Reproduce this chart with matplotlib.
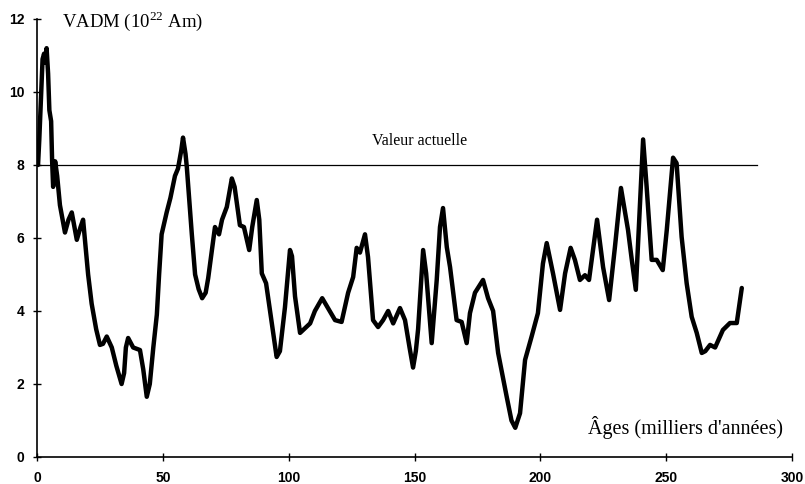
import matplotlib
matplotlib.use("Agg")
import matplotlib.pyplot as plt

# VADM record (10^22 Am^2) versus age (ka)
ages = [0.4, 0.9, 1.5, 2.2, 2.8, 3.2, 3.8, 4.4, 4.9, 5.6, 6.0, 6.4, 7.2, 8.0,
        9.1, 11.1, 12.5, 13.8, 15.8, 17.3, 18.3, 20.3, 21.7, 23.5, 25.0, 26.2,
        27.7, 29.7, 31.5, 33.6, 34.6, 35.3, 36.2, 38.2, 40.9, 42.2, 43.6, 44.8,
        46.2, 47.6, 48.5, 49.5, 51.5, 53.0, 54.8, 56.0, 57.3, 58.0, 59.0, 59.5,
        61.5, 62.8, 64.2, 65.6, 67.0, 68.0, 70.7, 72.3, 73.5, 75.4, 77.4, 78.5,
        80.6, 82.2, 84.3, 85.5, 87.3, 88.3, 89.3, 91.0, 93.0, 95.2, 96.5, 98.5,
        100.5, 101.3, 102.5, 104.5, 107.0, 108.5, 110.4, 113.3, 115.6, 118.4,
        121.0, 123.6, 125.6, 127.0, 128.3, 130.3, 131.5, 133.5, 135.5, 137.5,
        139.5, 141.5, 144.2, 146.2, 148.0, 149.4, 150.5, 151.4, 153.4, 154.6,
        156.8, 158.8, 160.1, 161.3, 162.8, 164.1, 166.7, 168.7, 170.7, 172.0,
        174.0, 177.2, 179.2, 181.2, 183.2, 186.6, 188.5, 190.0, 191.9, 193.9,
        196.5, 199.0, 201.0, 202.5, 205.0, 207.8, 209.8, 212.0, 213.7, 215.7,
        217.7, 219.3, 222.5, 224.9, 227.3, 229.6, 232.0, 234.8, 236.3, 237.9,
        239.6, 240.8, 242.2, 244.2, 246.2, 248.6, 250.2, 252.7, 254.1, 256.1,
        258.1, 260.1, 262.1, 264.1, 265.5, 267.4, 269.4, 272.5, 275.3, 278.0,
        280.0]
vadm = [8.0, 8.7, 9.7, 10.9, 11.05, 10.8, 11.2, 10.5, 9.5, 9.2, 8.1, 7.4, 8.1, 7.7,
        6.9, 6.15, 6.5, 6.7, 5.95, 6.3, 6.5, 5.0, 4.2, 3.5, 3.07, 3.1,
        3.3, 3.0, 2.5, 2.0, 2.3, 3.0, 3.26, 3.0, 2.93, 2.4, 1.65, 2.0,
        3.0, 3.9, 5.0, 6.1, 6.7, 7.1, 7.7, 7.9, 8.4, 8.75, 8.3, 7.95,
        6.1, 5.0, 4.6, 4.35, 4.5, 4.9, 6.3, 6.1, 6.5, 6.85, 7.63, 7.4,
        6.35, 6.3, 5.67, 6.3, 7.04, 6.5, 5.03, 4.76, 3.8, 2.74, 2.9, 4.1,
        5.67, 5.5, 4.4, 3.4, 3.56, 3.66, 4.0, 4.35, 4.08, 3.75,
        3.7, 4.5, 4.93, 5.73, 5.6, 6.1, 5.48, 3.75, 3.56, 3.75,
        4.0, 3.66, 4.08, 3.75, 3.0, 2.45, 2.9, 3.5, 5.67, 5.03,
        3.12, 4.85, 6.3, 6.82, 5.75, 5.2, 3.75, 3.7, 3.12, 3.94,
        4.5, 4.85, 4.35, 4.0, 2.85, 1.65, 1.0, 0.8, 1.2, 2.66,
        3.3, 3.94, 5.3, 5.86, 5.03, 4.03, 5.03, 5.73, 5.4, 4.85,
        4.98, 4.85, 6.5, 5.2, 4.3, 5.75, 7.37, 6.22, 5.4, 4.58,
        6.96, 8.7, 7.4, 5.4, 5.4, 5.12, 6.22, 8.2, 8.05, 6.03,
        4.76, 3.84, 3.4, 2.85, 2.9, 3.07, 3.0, 3.48, 3.67, 3.67,
        4.63]

present_value = 8.0
present_extent = [0, 286]
x_ticks = [0, 50, 100, 150, 200, 250, 300]
y_ticks = [0, 2, 4, 6, 8, 10, 12]

serif = ["Liberation Serif", "DejaVu Serif"]
plt.rcParams["mathtext.fontset"] = "custom"
plt.rcParams["mathtext.rm"] = "Liberation Serif"

fig = plt.figure(figsize=(8.05, 4.84), dpi=100, facecolor="white")
ax = fig.add_axes([0.046, 0.0558, 0.938, 0.905])

ax.plot(present_extent, [present_value, present_value], color="black", linewidth=0.9)
ax.plot(ages, vadm, color="black", linewidth=3.2, solid_joinstyle="round",
        solid_capstyle="round")

ax.set_xlim(0, 300)
ax.set_ylim(0, 12)
ax.set_xticks(x_ticks)
ax.set_yticks(y_ticks)
for s in ["top", "right"]:
    ax.spines[s].set_visible(False)
for s in ["left", "bottom"]:
    ax.spines[s].set_linewidth(1.2)
ax.tick_params(direction="inout", length=6, width=1.0, labelsize=10)
ax.tick_params(axis="x", pad=7)
ax.tick_params(axis="y", pad=6)
for lab in ax.get_xticklabels() + ax.get_yticklabels():
    lab.set_fontweight("bold")
    lab.set_family(["Liberation Sans", "DejaVu Sans"])

ax.text(152, 8.65, "Valeur actuelle", ha="center", va="center",
        fontsize=11.5, family=serif)
ax.text(10, 11.95, r"VADM (10$^{22}$ Am)", ha="left", va="center",
        fontsize=13.5, family=serif)
ax.text(296.5, 0.8, "Âges (milliers d'années)", ha="right", va="center",
        fontsize=14.5, family=serif)

fig.savefig("out.png", dpi=100, facecolor="white")
